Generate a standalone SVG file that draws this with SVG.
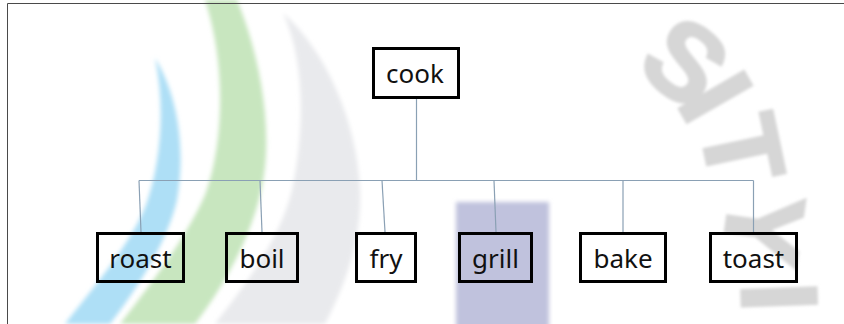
<svg xmlns="http://www.w3.org/2000/svg" width="844" height="324" viewBox="0 0 844 324">
  <defs>
    <filter id="soft" x="-20%" y="-20%" width="140%" height="140%">
      <feGaussianBlur stdDeviation="2"/>
    </filter>
    <filter id="soft2" x="-20%" y="-20%" width="140%" height="140%">
      <feGaussianBlur stdDeviation="1.8"/>
    </filter>
  </defs>
  <style>
    .box { fill: none; stroke: #000; stroke-width: 3; }
    .lbl { font-family: "Noto Sans", "Open Sans", sans-serif; font-size: 26px; fill: #111; text-anchor: middle; }
    .conn { stroke: #8aa0b4; stroke-width: 1.2; fill: none; }
    .wm { font-family: "Liberation Sans", Arial, sans-serif; font-weight: bold; font-size: 108px; fill: #d6d6d6; stroke: #d6d6d6; stroke-width: 3; text-anchor: middle; }
  </style>
  <rect x="0" y="0" width="844" height="324" fill="#fff"/>
  <g id="background">
    <path filter="url(#soft)" fill="#aedff6" d="M155,58 C178,95 186,150 177,200 C168,240 140,285 110,324 L65,324 C95,285 130,245 146,205 C160,165 166,110 155,58 Z"/>
    <path filter="url(#soft)" fill="#c8e6bf" d="M205,0 L237,0 C258,50 272,120 264,175 C256,230 225,285 195,324 L120,324 C150,285 185,240 205,195 C222,150 228,70 205,0 Z"/>
    <path filter="url(#soft)" fill="#e9eaed" d="M283,13 C325,50 357,120 360,190 C362,240 345,285 325,324 L215,324 C245,285 280,240 292,190 C305,130 305,60 283,13 Z"/>
    <rect filter="url(#soft)" x="456" y="202" width="93" height="130" fill="#c0c2dd"/>
    <g filter="url(#soft2)">
      <text class="wm" transform="translate(682,66) rotate(38)" y="32" font-size="88">S</text>
      <text class="wm" transform="translate(717,96) rotate(60)" y="39">I</text>
      <text class="wm" transform="translate(744,149) rotate(78)" y="39">T</text>
      <text class="wm" transform="translate(765,229) rotate(98)" y="39">Y</text>
      <text class="wm" transform="translate(778,297) rotate(88)" y="36" font-size="100">I</text>
    </g>
  </g>
  <path id="frame" d="M7.5,324 V3.5 H844" fill="none" stroke="#4a4a4a" stroke-width="1"/>
  <g id="connectors">
    <path class="conn" d="M416.5,99 V180.5"/>
    <path class="conn" d="M139,180.5 H753.5"/>
    <path class="conn" d="M139,180.5 L141,232"/>
    <path class="conn" d="M260,180.5 L262,232"/>
    <path class="conn" d="M382,180.5 L385,232"/>
    <path class="conn" d="M494,180.5 L496,232"/>
    <path class="conn" d="M623,180.5 L623,232"/>
    <path class="conn" d="M753.5,180.5 L753.5,232"/>
  </g>
  <g id="node-cook">
    <rect class="box" x="373.5" y="48.5" width="85" height="49"/>
    <text class="lbl" x="415" y="83">cook</text>
  </g>
  <g id="node-roast">
    <rect class="box" x="97.5" y="233.5" width="86" height="48"/>
    <text class="lbl" x="140.5" y="268">roast</text>
  </g>
  <g id="node-boil">
    <rect class="box" x="226.5" y="233.5" width="71" height="48"/>
    <text class="lbl" x="262" y="268">boil</text>
  </g>
  <g id="node-fry">
    <rect class="box" x="356.5" y="233.5" width="59" height="48"/>
    <text class="lbl" x="386" y="268">fry</text>
  </g>
  <g id="node-grill">
    <rect class="box" x="459.5" y="233.5" width="72" height="48"/>
    <text class="lbl" x="495.5" y="268">grill</text>
  </g>
  <g id="node-bake">
    <rect class="box" x="580.5" y="233.5" width="85" height="48"/>
    <text class="lbl" x="623" y="268">bake</text>
  </g>
  <g id="node-toast">
    <rect class="box" x="710.5" y="233.5" width="86" height="48"/>
    <text class="lbl" x="753.5" y="268">toast</text>
  </g>
</svg>
